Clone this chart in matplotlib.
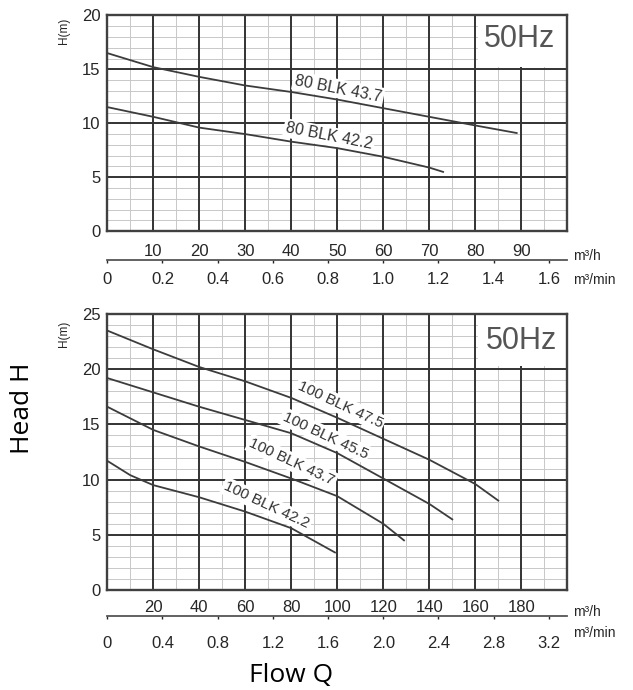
import matplotlib.pyplot as plt
from matplotlib.patches import Rectangle

# ---- data ----
# top chart: 80 BLK
q_80_437 = [0, 10, 20, 30, 40, 50, 60, 70, 80, 89]
h_80_437 = [16.5, 15.2, 14.3, 13.5, 12.9, 12.2, 11.4, 10.6, 9.8, 9.1]
q_80_422 = [0, 10, 20, 30, 40, 50, 60, 70, 73]
h_80_422 = [11.5, 10.6, 9.6, 9.0, 8.3, 7.7, 6.9, 5.9, 5.5]

# bottom chart: 100 BLK
q_100_475 = [0, 20, 40, 60, 80, 100, 120, 140, 160, 170]
h_100_475 = [23.5, 21.8, 20.2, 18.9, 17.4, 15.6, 13.7, 11.8, 9.6, 8.1]
q_100_455 = [0, 20, 40, 60, 80, 100, 120, 140, 150]
h_100_455 = [19.2, 17.9, 16.6, 15.4, 14.2, 12.4, 10.1, 7.8, 6.4]
q_100_437 = [0, 20, 40, 60, 80, 100, 120, 129]
h_100_437 = [16.6, 14.5, 13.0, 11.6, 10.1, 8.5, 6.0, 4.5]
q_100_422 = [0, 10, 20, 40, 60, 80, 99]
h_100_422 = [11.7, 10.4, 9.5, 8.4, 7.1, 5.6, 3.4]

top_xticks = [10, 20, 30, 40, 50, 60, 70, 80, 90]
top_min_ticks = [0, 0.2, 0.4, 0.6, 0.8, 1.0, 1.2, 1.4, 1.6]
top_min_labels = ['0', '0.2', '0.4', '0.6', '0.8', '1.0', '1.2', '1.4', '1.6']
bot_xticks = [20, 40, 60, 80, 100, 120, 140, 160, 180]
bot_min_ticks = [0, 0.4, 0.8, 1.2, 1.6, 2.0, 2.4, 2.8, 3.2]
bot_min_labels = ['0', '0.4', '0.8', '1.2', '1.6', '2.0', '2.4', '2.8', '3.2']

plt.rcParams['font.family'] = ['Liberation Sans', 'DejaVu Sans']

fig = plt.figure(figsize=(6.33, 6.9), dpi=100)
ax1 = fig.add_axes([0.1695, 0.6648, 0.7267, 0.313])
ax2 = fig.add_axes([0.1695, 0.1449, 0.7267, 0.400])

LINE = '#3c3c3c'
MAJ = '#333333'
MIN = '#c8c8c8'
TXT = '#262626'


def style_axes(ax, xmax, ymax, xstep, minor_x, xticks, sec_loc, min_ticks, min_labels, xpad, sec_pad):
    ax.set_xlim(0, xmax)
    ax.set_ylim(0, ymax)
    ax.set_axisbelow(True)
    # minor grid drawn as plain lines
    for x in range(0, xmax + 1, minor_x):
        ax.axvline(x, color=MIN, lw=0.7, zorder=0.3)
    for y in range(0, ymax + 1):
        ax.axhline(y, color=MIN, lw=0.7, zorder=0.3)
    for x in range(xstep, xmax, xstep):
        ax.axvline(x, color=MAJ, lw=1.4, zorder=0.6)
    for y in range(5, ymax, 5):
        ax.axhline(y, color=MAJ, lw=1.4, zorder=0.6)
    ax.set_xticks(xticks)
    ax.set_yticks(range(0, ymax + 1, 5))
    ax.tick_params(length=0, labelsize=12, colors=TXT)
    ax.tick_params(axis='x', pad=xpad)
    ax.tick_params(axis='y', pad=5)
    for s in ax.spines.values():
        s.set_color('#404040')
        s.set_linewidth(1.7)
    sec = ax.secondary_xaxis(sec_loc, functions=(lambda q: q / 60, lambda m: m * 60))
    sec.set_xticks(min_ticks)
    sec.set_xticklabels(min_labels)
    sec.tick_params(direction='out', length=2.5, width=1, colors=TXT, labelsize=12, pad=sec_pad)
    sec.spines['bottom'].set_color('#555555')
    sec.spines['bottom'].set_linewidth(1.3)
    ax.text(-0.094, 0.93, 'H(m)', transform=ax.transAxes, rotation=90,
            ha='center', va='center', fontsize=8.5, color=TXT)


style_axes(ax1, 100, 20, 10, 5, top_xticks, -0.133, top_min_ticks, top_min_labels, 9, 6)
style_axes(ax2, 200, 25, 20, 10, bot_xticks, -0.094, bot_min_ticks, bot_min_labels, 7, 12)

# unit labels on the right
ax1.text(1.013, -0.115, 'm³/h', transform=ax1.transAxes, fontsize=10, va='center', color=TXT)
ax1.text(1.013, -0.225, 'm³/min', transform=ax1.transAxes, fontsize=10, va='center', color=TXT)
ax2.text(1.013, -0.080, 'm³/h', transform=ax2.transAxes, fontsize=10, va='center', color=TXT)
ax2.text(1.013, -0.155, 'm³/min', transform=ax2.transAxes, fontsize=10, va='center', color=TXT)

# 50Hz boxes
ax1.add_patch(Rectangle((80.6, 15.25), 19.4, 4.75, facecolor='white', edgecolor='none', zorder=1))
ax1.text(89.7, 17.8, '50Hz', fontsize=22, color='#555555', ha='center', va='center', zorder=2)
ax2.add_patch(Rectangle((161.2, 20.25), 38.8, 4.75, facecolor='white', edgecolor='none', zorder=1))
ax2.text(180, 22.6, '50Hz', fontsize=22, color='#555555', ha='center', va='center', zorder=2)

# curves
ax1.plot(q_80_437, h_80_437, color=LINE, lw=1.3, zorder=4)
ax1.plot(q_80_422, h_80_422, color=LINE, lw=1.3, zorder=4)
ax2.plot(q_100_475, h_100_475, color=LINE, lw=1.3, zorder=4)
ax2.plot(q_100_455, h_100_455, color=LINE, lw=1.3, zorder=4)
ax2.plot(q_100_437, h_100_437, color=LINE, lw=1.3, zorder=4)
ax2.plot(q_100_422, h_100_422, color=LINE, lw=1.3, zorder=4)

box = dict(facecolor='white', edgecolor='none', pad=1.5)
lab = dict(color='#333333', ha='center', va='center', zorder=3, bbox=box)
ax1.text(50.2, 13.2, '80 BLK 43.7', rotation=-11, fontsize=11.5, **lab)
ax1.text(48.2, 8.8, '80 BLK 42.2', rotation=-11, fontsize=11.5, **lab)
ax2.text(101.2, 16.8, '100 BLK 47.5', rotation=-25, fontsize=11, **lab)
ax2.text(94.7, 14.0, '100 BLK 45.5', rotation=-25, fontsize=11, **lab)
ax2.text(80.3, 11.6, '100 BLK 43.7', rotation=-25, fontsize=11, **lab)
ax2.text(69.3, 7.7, '100 BLK 42.2', rotation=-25, fontsize=11, **lab)

# figure-level axis titles
fig.text(0.0348, 0.4087, 'Head H', rotation=90, ha='center', va='center',
         fontsize=19, family=['Open Sans', 'DejaVu Sans'])
fig.text(0.4605, 0.0116, 'Flow Q', ha='center', va='baseline',
         fontsize=19, family=['Open Sans', 'DejaVu Sans'])

fig.savefig('out.png', dpi=100)
